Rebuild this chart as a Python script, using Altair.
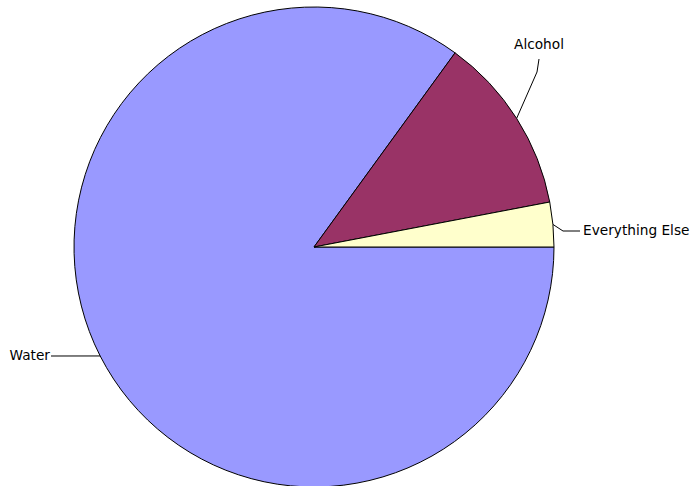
import math
import altair as alt
import pandas as pd

# ---- data ----
categories = ["Water", "Alcohol", "Everything Else"]
values = [85, 12, 3]
colors = ["#9999FF", "#993366", "#FFFFCC"]

# ---- layout constants (pixels) ----
W, H = 691, 486
CX, CY, R = 314, 247, 240
START = math.pi / 2  # Vega angle (clockwise from 12 o'clock) where the first slice starts

# label anchor layout: (elbow_x, elbow_y, end_x, end_y, text_x, text_y, align)
label_layout = {
    "Alcohol": (537, 72, 539, 59, 539, 45, "center"),
    "Everything Else": (563, 231, 580, 231, 583, 231, "left"),
    "Water": (60, 356, 51, 356, 50, 356, "right"),
}

df = pd.DataFrame({"category": categories, "value": values, "idx": range(len(categories))})

# leader lines computed from the slice mid-angles
total = sum(values)
rows, texts = [], []
cum = 0
for cat, v in zip(categories, values):
    mid = START + 2 * math.pi * (cum + v / 2) / total
    cum += v
    ex = CX + R * math.sin(mid)
    ey = CY - R * math.cos(mid)
    bx, by, tx, ty, lx, ly, al = label_layout[cat]
    if cat == "Water":
        pts = [(ex, ey), (tx, ty)]
    else:
        pts = [(ex, ey), (bx, by), (tx, ty)]
    for k, (px, py) in enumerate(pts):
        rows.append({"category": cat, "k": k, "px": px, "py": py})
    texts.append({"category": cat, "px": lx, "py": ly, "align": al})

lines_df = pd.DataFrame(rows)
texts_df = pd.DataFrame(texts)

xs = alt.Scale(domain=[0, W], nice=False, zero=False)
ys = alt.Scale(domain=[0, H], nice=False, zero=False, reverse=True)

pie = alt.Chart(df).mark_arc(stroke="#000000", strokeWidth=1, outerRadius=R).encode(
    theta=alt.Theta("value:Q", stack=True,
                    scale=alt.Scale(range=[START, START + 2 * math.pi])),
    color=alt.Color("category:N", scale=alt.Scale(domain=categories, range=colors), legend=None),
    order=alt.Order("idx:Q"),
    x=alt.value(CX),
    y=alt.value(CY),
)

leaders = alt.Chart(lines_df).mark_line(color="#000000", strokeWidth=1).encode(
    x=alt.X("px:Q", scale=xs, axis=None),
    y=alt.Y("py:Q", scale=ys, axis=None),
    detail="category:N",
    order="k:Q",
)

label_layers = []
for al in ["left", "center", "right"]:
    sub = texts_df[texts_df["align"] == al]
    if len(sub) == 0:
        continue
    label_layers.append(
        alt.Chart(sub).mark_text(align=al, baseline="middle", font="DejaVu Sans",
                                 fontSize=13.7, color="#000000").encode(
            x=alt.X("px:Q", scale=xs, axis=None),
            y=alt.Y("py:Q", scale=ys, axis=None),
            text="category:N",
        )
    )

chart = alt.layer(pie, leaders, *label_layers).properties(
    width=W, height=H, autosize=alt.AutoSizeParams(type="none"), padding=0,
    background="#FFFFFF",
).configure_view(stroke=None)

chart.save("out.html", embed_options={"renderer": "svg", "actions": False})
